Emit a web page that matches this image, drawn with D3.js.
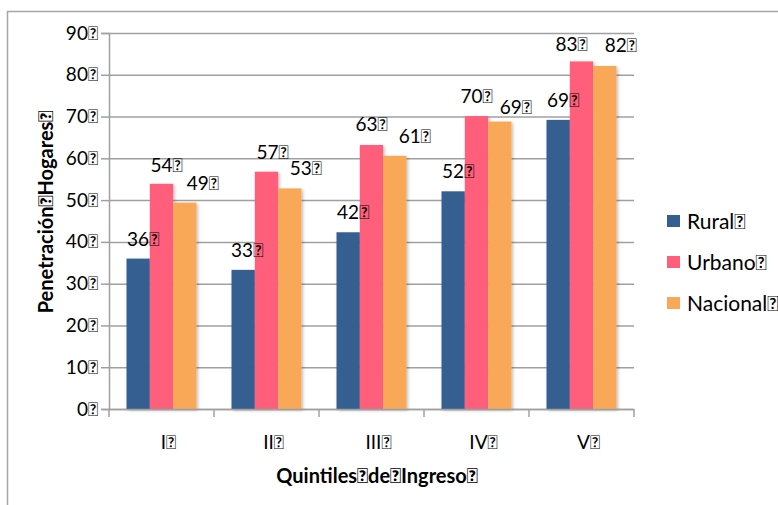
<!DOCTYPE html>
<html>
<head>
<meta charset="utf-8">
<script src="https://cdn.jsdelivr.net/npm/d3@7"></script>
<style>
  body { margin: 0; background: #fff; }
  svg text { font-family: Lato, "Open Sans", sans-serif; fill: #000; }
</style>
</head>
<body>
<svg id="chart" width="778" height="505"></svg>
<script>
// the source chart shows a missing-glyph box after every text, keep it
const T = "\uE000";

const quintiles = ["I", "II", "III", "IV", "V"];
const seriesNames = ["Rural", "Urbano", "Nacional"];
const rural = [36, 33.3, 42.3, 52.1, 69.2];
const urbano = [53.9, 56.8, 63.2, 70.1, 83.2];
const nacional = [49.4, 52.8, 60.6, 68.8, 82.1];
const yTicks = [0, 10, 20, 30, 40, 50, 60, 70, 80, 90];
const colors = ["#365F91", "#FF5F7A", "#F9A858"];

// label nudges (px) the way the original spread them out, per series
const labelDx = [[5, 4, 5, 5, 5], [5, 6, 0, 0, -10], [18, 16, 20, 16, 16]];
const labelDy = [[13, 13, 13, 13, 13], [12, 13, 14, 13, 10], [13, 13, 13, 8, 14]];

const values = [rural, urbano, nacional];

const svg = d3.select("#chart");

// outer frame (runs off the right / bottom edge in the original)
svg.append("rect")
  .attr("x", 7.5).attr("y", 11.5)
  .attr("width", 900).attr("height", 600)
  .attr("fill", "none").attr("stroke", "#a6a6a6").attr("stroke-width", 1.5);

const defs = svg.append("defs");
const f = defs.append("filter").attr("id", "shadow")
  .attr("x", "-20%").attr("y", "-20%").attr("width", "150%").attr("height", "150%");
f.append("feDropShadow")
  .attr("dx", 1.5).attr("dy", 1.5).attr("stdDeviation", 1.5)
  .attr("flood-color", "#000").attr("flood-opacity", 0.25);

const x0 = d3.scaleBand().domain(quintiles).range([109, 634]);
const x1 = d3.scaleBand().domain(seriesNames).range([0, x0.bandwidth()])
  .paddingInner(0).paddingOuter(0.75);
const y = d3.scaleLinear().domain([0, 90]).range([409, 33]);

// gridlines + y axis
const yAxis = d3.axisLeft(y).tickValues(yTicks).tickSize(8).tickPadding(3)
  .tickFormat(d => d + T);
const gy = svg.append("g").attr("transform", "translate(109,0)").call(yAxis);
gy.select(".domain").attr("stroke", "#a0a0a0").attr("stroke-width", 1.5);
gy.selectAll(".tick line").attr("stroke", "#a0a0a0").attr("stroke-width", 1.5);
gy.selectAll(".tick text").style("font-size", "19px");
gy.selectAll(".tick").append("line")
  .attr("x1", 0).attr("x2", 525)
  .attr("stroke", "#a0a0a0").attr("stroke-width", 1.5);

// bars
const groups = svg.append("g").selectAll("g")
  .data(quintiles)
  .join("g")
  .attr("transform", d => `translate(${x0(d)},0)`);

groups.selectAll("rect")
  .data((q, i) => seriesNames.map((s, k) => ({ s, v: values[k][i], c: colors[k] })))
  .join("rect")
  .attr("x", d => x1(d.s))
  .attr("y", d => y(d.v))
  .attr("width", x1.bandwidth())
  .attr("height", d => y(0) - y(d.v))
  .attr("fill", d => d.c)
  .attr("filter", "url(#shadow)");

// x axis line with boundary ticks
const xBounds = quintiles.map(q => x0(q)).concat([x0.range()[1]]);
svg.append("line")
  .attr("x1", 109).attr("x2", 634).attr("y1", 409.5).attr("y2", 409.5)
  .attr("stroke", "#a0a0a0").attr("stroke-width", 1.5);
svg.append("g").selectAll("line")
  .data(xBounds)
  .join("line")
  .attr("x1", d => d).attr("x2", d => d)
  .attr("y1", 409).attr("y2", 417)
  .attr("stroke", "#a0a0a0").attr("stroke-width", 1.5);

svg.append("g").selectAll("text")
  .data(quintiles)
  .join("text")
  .attr("x", d => x0(d) + x0.bandwidth() / 2 + 7)
  .attr("y", 449)
  .attr("text-anchor", "middle")
  .style("font-size", "19px")
  .text(d => d + T);

// data labels
groups.selectAll("text.lbl")
  .data((q, i) => seriesNames.map((s, k) => ({ s, k, i, v: values[k][i] })))
  .join("text")
  .attr("class", "lbl")
  .attr("x", d => x1(d.s) + x1.bandwidth() / 2 + labelDx[d.k][d.i])
  .attr("y", d => y(d.v) - labelDy[d.k][d.i])
  .attr("text-anchor", "middle")
  .style("font-size", "19px")
  .text(d => Math.round(d.v) + T);

// axis titles
svg.append("text")
  .attr("transform", "translate(53,212) rotate(-90)")
  .attr("text-anchor", "middle")
  .style("font-size", "20px").style("font-weight", "bold")
  .text("Penetración" + T + "Hogares" + T);

svg.append("text")
  .attr("x", 377).attr("y", 483)
  .attr("text-anchor", "middle")
  .style("font-size", "20px").style("font-weight", "bold")
  .text("Quintiles" + T + "de" + T + "Ingreso" + T);

// legend
const lg = svg.append("g").selectAll("g")
  .data(seriesNames)
  .join("g")
  .attr("transform", (d, i) => `translate(667,${215 + i * 41})`);
lg.append("rect").attr("width", 13).attr("height", 12)
  .attr("fill", (d, i) => colors[i]);
lg.append("text").attr("x", 20).attr("y", 14)
  .style("font-size", "21px")
  .text(d => d + T);
</script>
</body>
</html>
